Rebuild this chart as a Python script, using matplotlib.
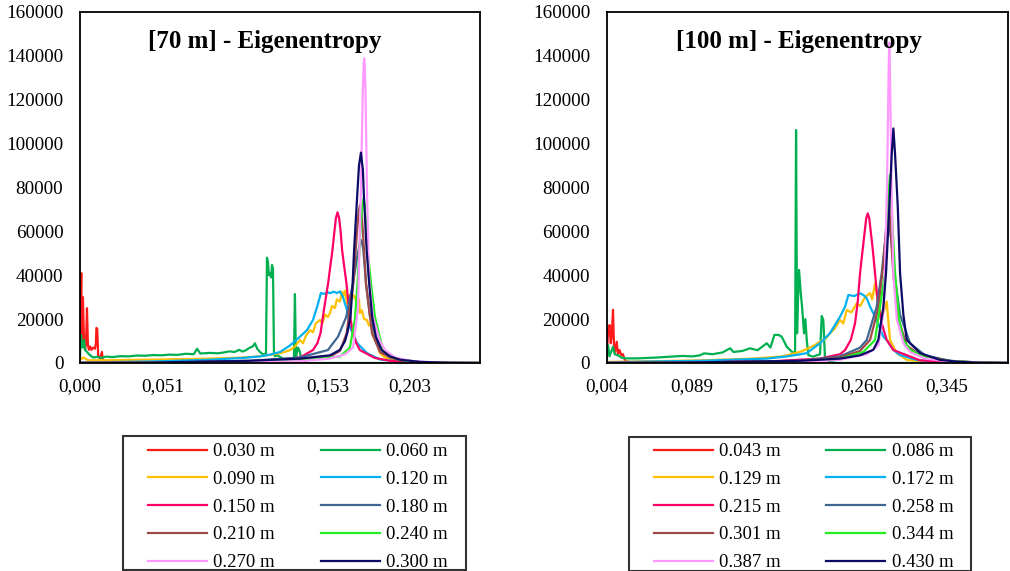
import matplotlib
matplotlib.use("Agg")
import matplotlib.pyplot as plt
from matplotlib.patches import Rectangle
from matplotlib.ticker import FixedLocator, FixedFormatter

plt.rcParams['font.family'] = ['Liberation Serif', 'DejaVu Serif']

# ---- 70 m panel: (eigenentropy, count) points ----
left_030 = [(0.0, 12000), (0.0004, 28000), (0.0008, 41000), (0.0012, 9000), (0.0018, 30000),
            (0.0024, 12000), (0.0031, 6000), (0.0037, 9000), (0.0043, 25000), (0.0049, 8000),
            (0.0055, 6000), (0.0062, 7500), (0.0071, 6000), (0.008, 7000), (0.0092, 6500),
            (0.0098, 9000), (0.0101, 16000), (0.0106, 15500), (0.0112, 3000), (0.0123, 2000),
            (0.0135, 5000), (0.0141, 1200), (0.0155, 600), (0.0185, 300), (0.03, 150),
            (0.06, 100), (0.1, 50), (0.14, 0)]
left_060 = [(0.0, 3000), (0.0006, 12800), (0.0012, 8000), (0.0018, 7000), (0.0025, 10500),
            (0.0031, 6000), (0.0043, 5000), (0.0055, 4000), (0.0068, 3200), (0.008, 2500),
            (0.0105, 2800), (0.013, 2300), (0.016, 2900), (0.02, 2700), (0.025, 3100),
            (0.03, 3000), (0.035, 3400), (0.04, 3300), (0.045, 3600), (0.05, 3500),
            (0.055, 3800), (0.06, 3700), (0.065, 4200), (0.07, 4000), (0.072, 6500),
            (0.074, 4300), (0.08, 4600), (0.085, 4400), (0.09, 5000), (0.092, 5300),
            (0.095, 5000), (0.098, 6000), (0.1, 5200), (0.102, 5800), (0.104, 6800),
            (0.1064, 7600), (0.1076, 9000), (0.109, 6500), (0.1107, 5000), (0.1125, 4000),
            (0.1144, 4200), (0.115, 48000), (0.1156, 46000), (0.1162, 40000), (0.1169, 41000),
            (0.1175, 39000), (0.1181, 44700), (0.1187, 43000), (0.1193, 5000), (0.1199, 3000),
            (0.1212, 3600), (0.123, 2800), (0.1248, 2000), (0.127, 1500), (0.129, 1500),
            (0.1316, 2000), (0.1322, 31400), (0.1328, 2500), (0.1341, 7000), (0.1353, 5000),
            (0.136, 1000), (0.14, 0), (0.187, 0)]
left_090 = [(0.0, 1500), (0.002, 2500), (0.005, 1200), (0.02, 1300), (0.05, 1600), (0.08, 2000),
            (0.1, 2500), (0.11, 3000), (0.12, 4000), (0.125, 4800), (0.1292, 5900),
            (0.1322, 7500), (0.1353, 10500), (0.1372, 9000), (0.139, 12500), (0.1415, 15000),
            (0.1433, 14000), (0.145, 18000), (0.1476, 19600), (0.149, 18000), (0.1507, 22000),
            (0.1525, 21000), (0.1538, 22800), (0.155, 26000), (0.1568, 25000), (0.158, 29000),
            (0.1599, 28000), (0.1611, 32400), (0.1617, 30000), (0.163, 33000), (0.1642, 27000),
            (0.1655, 31000), (0.1667, 28000), (0.1679, 31000), (0.1691, 30000), (0.1704, 26000),
            (0.1716, 29000), (0.1722, 22800), (0.1734, 24000), (0.1747, 20000), (0.1765, 19600),
            (0.1777, 17000), (0.179, 18000), (0.1802, 13600), (0.1814, 11000), (0.1833, 8000),
            (0.1845, 4500), (0.1876, 2500), (0.1937, 900), (0.203, 300), (0.2214, 80), (0.246, 0)]
left_120 = [(0.0, 200), (0.05, 800), (0.08, 1500), (0.1, 2300), (0.1107, 3000), (0.1169, 3800),
            (0.123, 5000), (0.1292, 8000), (0.1353, 12000), (0.1396, 15000), (0.1433, 19600),
            (0.1458, 25500), (0.1482, 31900), (0.15, 31500), (0.1525, 32200), (0.1538, 31800),
            (0.156, 32500), (0.158, 31900), (0.1599, 32600), (0.1617, 30100), (0.1642, 24200),
            (0.166, 16400), (0.1704, 9100), (0.1765, 4500), (0.1845, 1600), (0.1968, 500),
            (0.2091, 150), (0.2276, 30), (0.246, 0)]
left_150 = [(0.0, 100), (0.0738, 300), (0.1046, 800), (0.123, 1500), (0.1353, 2500),
            (0.1433, 5900), (0.146, 9000), (0.1479, 13500), (0.15, 24000), (0.1526, 36300),
            (0.1553, 51500), (0.1565, 60000), (0.1574, 66000), (0.1584, 68700), (0.1594, 66000),
            (0.1603, 60000), (0.1612, 51500), (0.1625, 44000), (0.1639, 36300), (0.1655, 24000),
            (0.1679, 13500), (0.17, 9000), (0.1721, 5900), (0.1813, 2300), (0.1905, 1000),
            (0.2089, 200), (0.2274, 50), (0.246, 0)]
left_180 = [(0.0, 50), (0.06, 300), (0.1046, 1000), (0.1353, 2500), (0.1525, 5900),
            (0.1587, 12000), (0.1638, 21100), (0.1679, 36300), (0.1704, 48000), (0.172, 54000),
            (0.1731, 56000), (0.1742, 52000), (0.1751, 44000), (0.1759, 36300), (0.1784, 21100),
            (0.1833, 8000), (0.1907, 3000), (0.1968, 1500), (0.2091, 400), (0.2276, 50), (0.246, 0)]
left_210 = [(0.0, 50), (0.06, 300), (0.1046, 800), (0.1353, 1500), (0.1538, 3000),
            (0.1599, 5500), (0.164, 13500), (0.1681, 36300), (0.1704, 60000), (0.1714, 69000),
            (0.1722, 72000), (0.1731, 69000), (0.174, 60000), (0.1759, 36300), (0.1796, 13500),
            (0.1845, 5000), (0.1907, 2500), (0.1968, 1200), (0.2091, 400), (0.2276, 50), (0.246, 0)]
left_240 = [(0.0, 30), (0.06, 200), (0.1046, 600), (0.1353, 1000), (0.1599, 3000),
            (0.166, 7000), (0.1691, 20000), (0.171, 40000), (0.1728, 65000), (0.1737, 72000),
            (0.1744, 75000), (0.1751, 72000), (0.1759, 65000), (0.1771, 50000), (0.179, 36300),
            (0.1814, 21100), (0.1863, 5900), (0.1907, 3000), (0.1968, 1500), (0.2091, 400),
            (0.2276, 50), (0.246, 0)]
left_270 = [(0.0, 30), (0.0738, 200), (0.1046, 400), (0.1353, 800), (0.1538, 2000),
            (0.163, 4000), (0.1679, 7000), (0.171, 25000), (0.1728, 80000), (0.174, 125000),
            (0.1745, 136000), (0.1748, 138900), (0.1751, 136000), (0.1756, 125000),
            (0.1765, 80000), (0.1777, 40000), (0.1802, 21100), (0.1845, 10000), (0.1876, 5900),
            (0.1937, 2500), (0.203, 1000), (0.2153, 300), (0.2337, 50), (0.246, 0)]
left_300 = [(0.0, 0), (0.0431, 200), (0.1046, 1000), (0.1353, 2000), (0.1538, 3500),
            (0.1599, 6000), (0.163, 10000), (0.1645, 14000), (0.1664, 21100), (0.1676, 35000),
            (0.1686, 51500), (0.1704, 75000), (0.1716, 90000), (0.1728, 95900), (0.174, 88000),
            (0.1747, 75000), (0.1763, 51500), (0.178, 35000), (0.1797, 21100), (0.182, 12000),
            (0.1855, 5900), (0.1907, 3000), (0.1968, 1500), (0.2091, 500), (0.2276, 100), (0.246, 0)]

# ---- 100 m panel ----
right_043 = [(0.004, 3000), (0.0043, 5000), (0.0053, 14000), (0.0068, 17300), (0.008, 9000),
             (0.009, 12000), (0.0103, 24200), (0.0113, 8000), (0.0123, 5000), (0.014, 9700),
             (0.0153, 4000), (0.0168, 5900), (0.0186, 3600), (0.0203, 4000), (0.0223, 1000),
             (0.0273, 300), (0.06, 100), (0.15, 50), (0.228, 0)]
right_086 = [(0.004, 2000), (0.0053, 8200), (0.0068, 3000), (0.0085, 5150), (0.0103, 7400),
             (0.012, 4000), (0.0153, 3500), (0.0186, 2500), (0.0227, 2100), (0.0344, 2100),
             (0.045, 2300), (0.055, 2500), (0.0681, 2900), (0.08, 3200), (0.09, 3000),
             (0.0975, 3500), (0.1015, 4400), (0.11, 4000), (0.12, 4800), (0.1276, 6700),
             (0.131, 5000), (0.14, 5500), (0.1476, 6700), (0.155, 5800), (0.16, 7500),
             (0.1643, 9000), (0.168, 7000), (0.172, 12800), (0.1759, 12800), (0.1793, 12000),
             (0.1844, 7400), (0.1894, 5150), (0.1927, 4500), (0.1937, 106200), (0.1947, 13500),
             (0.1957, 30000), (0.1967, 42400), (0.1984, 31800), (0.1997, 25700), (0.2017, 13500),
             (0.203, 20000), (0.2044, 10500), (0.206, 3600), (0.2107, 2900), (0.2177, 4000),
             (0.2194, 21400), (0.221, 19600), (0.2227, 2000), (0.2277, 500), (0.235, 0), (0.33, 0)]
right_129 = [(0.004, 500), (0.05, 800), (0.1, 1200), (0.15, 2000), (0.18, 3000), (0.1984, 5200),
             (0.21, 7500), (0.2177, 9700), (0.223, 11000), (0.2277, 13500), (0.232, 15500),
             (0.2378, 19600), (0.241, 18000), (0.2445, 24200), (0.249, 23000), (0.2545, 27200),
             (0.258, 26000), (0.2611, 28700), (0.264, 30500), (0.2678, 31800), (0.27, 29000),
             (0.2728, 36300), (0.2761, 27000), (0.2795, 21100), (0.282, 24000), (0.2845, 28000),
             (0.2878, 10500), (0.2946, 4500), (0.3046, 1400), (0.3279, 500), (0.358, 150), (0.406, 0)]
right_172 = [(0.004, 300), (0.05, 700), (0.0975, 1000), (0.1643, 2000), (0.1844, 3000),
             (0.1984, 4000), (0.2044, 4500), (0.2177, 9000), (0.2277, 13600), (0.2378, 21100),
             (0.2428, 25700), (0.2461, 31000), (0.252, 30500), (0.2578, 31800), (0.2611, 31000),
             (0.2645, 29500), (0.2678, 25700), (0.2745, 19600), (0.2811, 12000), (0.2845, 10500),
             (0.2912, 5900), (0.2979, 3600), (0.3146, 1400), (0.3279, 800), (0.358, 200), (0.406, 0)]
right_215 = [(0.004, 100), (0.1, 300), (0.17, 800), (0.2177, 2000), (0.2378, 4000),
             (0.2428, 5900), (0.2485, 10500), (0.2528, 18100), (0.2555, 28000), (0.2578, 40900),
             (0.2605, 52000), (0.2625, 60000), (0.264, 66000), (0.2655, 68200), (0.267, 66000),
             (0.2685, 60000), (0.2705, 52000), (0.2728, 40900), (0.2755, 28000), (0.2795, 18100),
             (0.2845, 10500), (0.2912, 5900), (0.3179, 1200), (0.358, 300), (0.406, 0)]
right_258 = [(0.004, 50), (0.1, 300), (0.1984, 1000), (0.2378, 3000), (0.2578, 7000),
             (0.2645, 10500), (0.2745, 25700), (0.2795, 41000), (0.2828, 55000), (0.2845, 61000),
             (0.2861, 63900), (0.2877, 61000), (0.2893, 55000), (0.2929, 38000), (0.2979, 22000),
             (0.3079, 9000), (0.3229, 3500), (0.348, 1000), (0.378, 200), (0.406, 0)]
right_301 = [(0.004, 50), (0.1, 300), (0.1984, 900), (0.2378, 2500), (0.2578, 5500),
             (0.2678, 10500), (0.2761, 25000), (0.2811, 45000), (0.2845, 65000), (0.2853, 72000),
             (0.2861, 75800), (0.287, 72000), (0.2878, 65000), (0.2912, 40000), (0.2962, 20000),
             (0.3046, 8000), (0.3179, 3500), (0.348, 900), (0.378, 200), (0.406, 0)]
right_344 = [(0.004, 30), (0.1, 200), (0.1984, 700), (0.2378, 2000), (0.2611, 5000),
             (0.2728, 10500), (0.2828, 41000), (0.2855, 65000), (0.2868, 80000), (0.2878, 85700),
             (0.2888, 80000), (0.29, 65000), (0.2929, 41000), (0.2969, 20000), (0.3012, 10500),
             (0.3079, 6000), (0.3229, 2500), (0.348, 800), (0.378, 200), (0.406, 0)]
right_387 = [(0.004, 30), (0.1, 150), (0.1984, 500), (0.2378, 1500), (0.2645, 4000),
             (0.2761, 8000), (0.2818, 25000), (0.2848, 80000), (0.2862, 125000), (0.2867, 140000),
             (0.2871, 146000), (0.2875, 140000), (0.288, 125000), (0.2894, 80000), (0.2912, 40000),
             (0.2946, 20000), (0.3012, 9000), (0.3079, 5000), (0.3229, 2000), (0.348, 600),
             (0.378, 150), (0.406, 0)]
right_430 = [(0.004, 0), (0.0975, 300), (0.1984, 1000), (0.2378, 2000), (0.2578, 3500),
             (0.2711, 6000), (0.2761, 10500), (0.281, 25000), (0.2838, 40900), (0.2871, 71200),
             (0.2895, 95000), (0.2912, 106900), (0.2929, 95000), (0.2956, 71200), (0.2979, 40900),
             (0.3012, 22000), (0.3046, 10500), (0.3179, 4500), (0.3379, 1400), (0.358, 500),
             (0.378, 150), (0.406, 0)]

left_labels = ["0.030 m", "0.060 m", "0.090 m", "0.120 m", "0.150 m",
               "0.180 m", "0.210 m", "0.240 m", "0.270 m", "0.300 m"]
right_labels = ["0.043 m", "0.086 m", "0.129 m", "0.172 m", "0.215 m",
                "0.258 m", "0.301 m", "0.344 m", "0.387 m", "0.430 m"]
colors = ["#ff1a1a", "#00b050", "#ffc000", "#00b0f0", "#ff0066",
          "#3f6792", "#9e4a48", "#22ee22", "#ff99ff", "#0c0c66"]

left_ticks = [0.0, 0.05075, 0.1015, 0.15225, 0.203]
left_ticklabels = ["0,000", "0,051", "0,102", "0,153", "0,203"]
right_ticks = [0.004, 0.08925, 0.1745, 0.25975, 0.345]
right_ticklabels = ["0,004", "0,089", "0,175", "0,260", "0,345"]
y_ticks = [0, 20000, 40000, 60000, 80000, 100000, 120000, 140000, 160000]

fig = plt.figure(figsize=(10.1, 5.71), dpi=100)

panels = [
    dict(rect=[0.0792, 0.3643, 0.396, 0.6147],
         series=[left_030, left_060, left_090, left_120, left_150,
                 left_180, left_210, left_240, left_270, left_300],
         labels=left_labels, xlim=(0.0, 0.246), ticks=left_ticks,
         ticklabels=left_ticklabels, title="[70 m] - Eigenentropy",
         title_x=0.4625, leg_x=0.295, box=[0.1218, 0.0018, 0.3396, 0.2347]),
    dict(rect=[0.6007, 0.3643, 0.3973, 0.6147],
         series=[right_043, right_086, right_129, right_172, right_215,
                 right_258, right_301, right_344, right_387, right_430],
         labels=right_labels, xlim=(0.004, 0.406), ticks=right_ticks,
         ticklabels=right_ticklabels, title="[100 m] - Eigenentropy",
         title_x=0.479, leg_x=0.7955, box=[0.6228, 0.0, 0.3386, 0.2347]),
]

# legend is filled row by row in the reference
order = [0, 2, 4, 6, 8, 1, 3, 5, 7, 9]

for p in panels:
    ax = fig.add_axes(p["rect"])
    lines = []
    for pts, lab, col in zip(p["series"], p["labels"], colors):
        xs, ys = zip(*pts)
        ln, = ax.plot(xs, ys, color=col, lw=1.6, label=lab, solid_joinstyle='round')
        lines.append(ln)
    ax.set_xlim(*p["xlim"])
    ax.set_ylim(0, 160000)
    ax.xaxis.set_major_locator(FixedLocator(p["ticks"]))
    ax.xaxis.set_major_formatter(FixedFormatter(p["ticklabels"]))
    ax.set_yticks(y_ticks)
    ax.set_yticklabels([str(v) for v in y_ticks])
    ax.tick_params(length=0, labelsize=13.8)
    ax.tick_params(axis='y', pad=12)
    ax.tick_params(axis='x', pad=11)
    for s in ax.spines.values():
        s.set_linewidth(1.3)
        s.set_color("black")
    ax.text(p["title_x"], 0.915, p["title"], transform=ax.transAxes, ha='center',
            va='center', fontsize=18, fontweight='bold')

    ax.legend([lines[i] for i in order], [p["labels"][i] for i in order],
              loc='upper center', bbox_to_anchor=(p["leg_x"], 0.224),
              bbox_transform=fig.transFigure, ncol=2, fontsize=13.5, frameon=False,
              handlelength=3.15, handletextpad=0.33, columnspacing=2.45,
              labelspacing=0.565, borderpad=0, borderaxespad=0)
    fig.add_artist(Rectangle((p["box"][0], p["box"][1]), p["box"][2], p["box"][3],
                             transform=fig.transFigure, fill=False,
                             edgecolor='#333333', lw=1.5))

fig.savefig("out.png", dpi=100)
